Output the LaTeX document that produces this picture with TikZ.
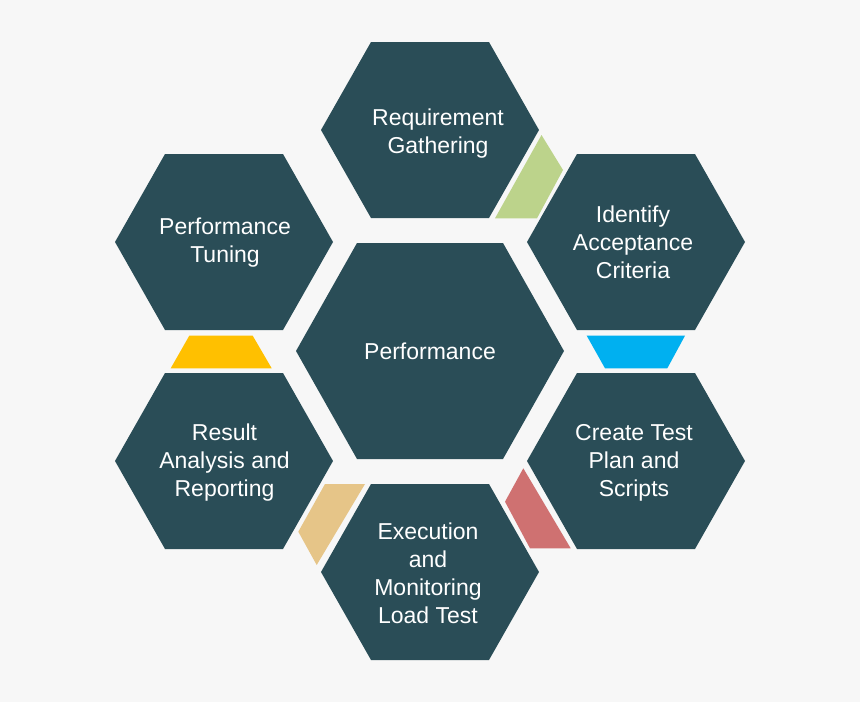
\documentclass[tikz,border=0pt]{standalone}
\usepackage{fontspec}
\setmainfont{Liberation Sans}
\definecolor{bgcol}{RGB}{247,247,247}
\definecolor{hexcol}{RGB}{42,77,87}
\definecolor{greencol}{RGB}{188,211,139}
\definecolor{bluecol}{RGB}{0,176,240}
\definecolor{yellowcol}{RGB}{255,192,0}
\definecolor{redcol}{RGB}{207,113,113}
\definecolor{tancol}{RGB}{230,197,136}
\tikzset{
  outerhex/.pic={\fill[hexcol] (-109,0) -- (-59,-88) -- (59,-88) -- (109,0) -- (59,88) -- (-59,88) -- cycle;},
  centerhex/.pic={\fill[hexcol] (-134,0) -- (-73,-108) -- (73,-108) -- (134,0) -- (73,108) -- (-73,108) -- cycle;},
  lbl/.style={text=white, align=center, inner sep=0pt, font=\fontsize{23}{28}\selectfont}
}
\begin{document}
\begin{tikzpicture}[x=1pt,y=-1pt]
\fill[bgcol] (0,0) rectangle (860,702);
\useasboundingbox (0,0) rectangle (860,702);
% hexagon centres
\coordinate (cC) at (430,351);
\coordinate (cT) at (430,130);
\coordinate (cUR) at (636,242);
\coordinate (cLR) at (636,461);
\coordinate (cB) at (430,572);
\coordinate (cLL) at (224,461);
\coordinate (cUL) at (224,242);
\pic at (cC) {centerhex};
\pic at (cT) {outerhex};
\pic at (cUR) {outerhex};
\pic at (cLR) {outerhex};
\pic at (cB) {outerhex};
\pic at (cLL) {outerhex};
\pic at (cUL) {outerhex};
% connecting pieces
\fill[greencol] (541.5,135) -- (563,170) -- (537,218.3) -- (495,218.3) -- cycle;
\fill[bluecol] (586.7,335.7) -- (685,335.7) -- (667.3,368.3) -- (605,368.3) -- cycle;
\fill[redcol] (523.3,468.3) -- (570.7,548.3) -- (530,548.3) -- (505,501.7) -- cycle;
\fill[tancol] (325,484) -- (365,484) -- (316.7,565) -- (298.3,531.7) -- cycle;
\fill[yellowcol] (189.3,335.7) -- (252.7,335.7) -- (271.7,368.3) -- (170.7,368.3) -- cycle;
% labels
\node[lbl] (perf) at (430,351) {Performance};
\node[lbl] (req) at (438,134) {Requirement\\Gathering};
\node[lbl] (acc) at (633,242) {Identify\\Acceptance\\Criteria};
\node[lbl] (plan) at (634,463) {Create Test\\Plan and\\Scripts};
\node[lbl] (exec) at (428,573) {Execution\\and\\Monitoring\\Load Test};
\node[lbl] (res) at (224.5,463) {Result\\Analysis and\\Reporting};
\node[lbl] (tune) at (225,243) {Performance\\Tuning};
\end{tikzpicture}
\end{document}
